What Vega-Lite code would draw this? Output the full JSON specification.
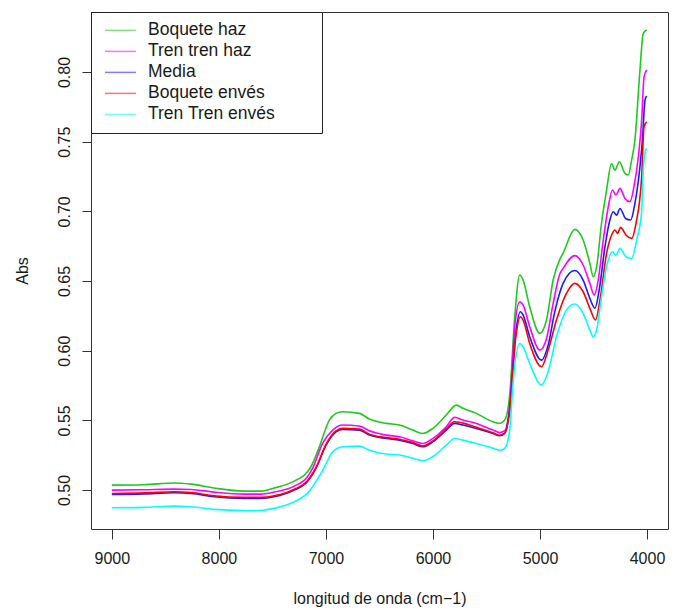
{
  "$schema": "https://vega.github.io/schema/vega-lite/v6.json",
  "width": 577,
  "height": 517,
  "autosize": "none",
  "padding": {"left": 91, "top": 12, "right": 8, "bottom": 81},
  "background": "white",
  "config": {
    "view": {"stroke": "#333", "strokeWidth": 1},
    "font": "Liberation Sans",
    "axis": {"labelFont": "Liberation Sans", "titleFont": "Liberation Sans", "labelFontSize": 16, "titleFontSize": 16, "titleFontWeight": "normal", "labelColor": "#1a1a1a", "titleColor": "#1a1a1a", "tickColor": "#333", "grid": false, "domain": false}
  },
  "datasets": {
    "spectra": [
      {"s":"Boquete haz","x":9000,"y":0.5035},{"s":"Boquete haz","x":8700,"y":0.5038},{"s":"Boquete haz","x":8420,"y":0.5050},{"s":"Boquete haz","x":8260,"y":0.5042},{"s":"Boquete haz","x":8045,"y":0.5014},{"s":"Boquete haz","x":7764,"y":0.4992},{"s":"Boquete haz","x":7605,"y":0.4992},{"s":"Boquete haz","x":7483,"y":0.5014},{"s":"Boquete haz","x":7296,"y":0.5064},{"s":"Boquete haz","x":7174,"y":0.5129},{"s":"Boquete haz","x":7140,"y":0.5167},{"s":"Boquete haz","x":7062,"y":0.5308},{"s":"Boquete haz","x":6968,"y":0.5502},{"s":"Boquete haz","x":6906,"y":0.5550},{"s":"Boquete haz","x":6844,"y":0.5562},{"s":"Boquete haz","x":6687,"y":0.5550},{"s":"Boquete haz","x":6594,"y":0.5509},{"s":"Boquete haz","x":6437,"y":0.5478},{"s":"Boquete haz","x":6313,"y":0.5466},{"s":"Boquete haz","x":6188,"y":0.5430},{"s":"Boquete haz","x":6095,"y":0.5406},{"s":"Boquete haz","x":6001,"y":0.5442},{"s":"Boquete haz","x":5876,"y":0.5538},{"s":"Boquete haz","x":5782,"y":0.5609},{"s":"Boquete haz","x":5720,"y":0.5586},{"s":"Boquete haz","x":5595,"y":0.5550},{"s":"Boquete haz","x":5439,"y":0.5490},{"s":"Boquete haz","x":5377,"y":0.5478},{"s":"Boquete haz","x":5330,"y":0.5502},{"s":"Boquete haz","x":5283,"y":0.5680},{"s":"Boquete haz","x":5236,"y":0.6243},{"s":"Boquete haz","x":5189,"y":0.6543},{"s":"Boquete haz","x":5158,"y":0.6507},{"s":"Boquete haz","x":5096,"y":0.6315},{"s":"Boquete haz","x":5002,"y":0.6124},{"s":"Boquete haz","x":4939,"y":0.6220},{"s":"Boquete haz","x":4877,"y":0.6507},{"s":"Boquete haz","x":4815,"y":0.6655},{"s":"Boquete haz","x":4784,"y":0.6700},{"s":"Boquete haz","x":4675,"y":0.6871},{"s":"Boquete haz","x":4597,"y":0.6794},{"s":"Boquete haz","x":4534,"y":0.6627},{"s":"Boquete haz","x":4503,"y":0.6531},{"s":"Boquete haz","x":4471,"y":0.6602},{"s":"Boquete haz","x":4425,"y":0.6914},{"s":"Boquete haz","x":4378,"y":0.7153},{"s":"Boquete haz","x":4331,"y":0.7344},{"s":"Boquete haz","x":4300,"y":0.7296},{"s":"Boquete haz","x":4259,"y":0.7356},{"s":"Boquete haz","x":4206,"y":0.7273},{"s":"Boquete haz","x":4175,"y":0.7261},{"s":"Boquete haz","x":4144,"y":0.7368},{"s":"Boquete haz","x":4113,"y":0.7512},{"s":"Boquete haz","x":4066,"y":0.8014},{"s":"Boquete haz","x":4035,"y":0.8278},{"s":"Boquete haz","x":4003,"y":0.8302},

      {"s":"Tren tren haz","x":9000,"y":0.4999},{"s":"Tren tren haz","x":8700,"y":0.5002},{"s":"Tren tren haz","x":8420,"y":0.5006},{"s":"Tren tren haz","x":8260,"y":0.5004},{"s":"Tren tren haz","x":8045,"y":0.4985},{"s":"Tren tren haz","x":7764,"y":0.4970},{"s":"Tren tren haz","x":7605,"y":0.4970},{"s":"Tren tren haz","x":7483,"y":0.4985},{"s":"Tren tren haz","x":7296,"y":0.5028},{"s":"Tren tren haz","x":7174,"y":0.5093},{"s":"Tren tren haz","x":7125,"y":0.5155},{"s":"Tren tren haz","x":7031,"y":0.5334},{"s":"Tren tren haz","x":6937,"y":0.5430},{"s":"Tren tren haz","x":6844,"y":0.5466},{"s":"Tren tren haz","x":6687,"y":0.5459},{"s":"Tren tren haz","x":6594,"y":0.5425},{"s":"Tren tren haz","x":6437,"y":0.5394},{"s":"Tren tren haz","x":6313,"y":0.5382},{"s":"Tren tren haz","x":6188,"y":0.5353},{"s":"Tren tren haz","x":6095,"y":0.5334},{"s":"Tren tren haz","x":6001,"y":0.5370},{"s":"Tren tren haz","x":5876,"y":0.5454},{"s":"Tren tren haz","x":5798,"y":0.5521},{"s":"Tren tren haz","x":5720,"y":0.5502},{"s":"Tren tren haz","x":5595,"y":0.5478},{"s":"Tren tren haz","x":5439,"y":0.5430},{"s":"Tren tren haz","x":5377,"y":0.5413},{"s":"Tren tren haz","x":5330,"y":0.5425},{"s":"Tren tren haz","x":5283,"y":0.5610},{"s":"Tren tren haz","x":5236,"y":0.6172},{"s":"Tren tren haz","x":5189,"y":0.6351},{"s":"Tren tren haz","x":5158,"y":0.6327},{"s":"Tren tren haz","x":5096,"y":0.6172},{"s":"Tren tren haz","x":5002,"y":0.6004},{"s":"Tren tren haz","x":4939,"y":0.6088},{"s":"Tren tren haz","x":4877,"y":0.6339},{"s":"Tren tren haz","x":4815,"y":0.6550},{"s":"Tren tren haz","x":4784,"y":0.6591},{"s":"Tren tren haz","x":4675,"y":0.6682},{"s":"Tren tren haz","x":4597,"y":0.6615},{"s":"Tren tren haz","x":4534,"y":0.6483},{"s":"Tren tren haz","x":4494,"y":0.6399},{"s":"Tren tren haz","x":4456,"y":0.6507},{"s":"Tren tren haz","x":4409,"y":0.6794},{"s":"Tren tren haz","x":4362,"y":0.7033},{"s":"Tren tren haz","x":4322,"y":0.7153},{"s":"Tren tren haz","x":4291,"y":0.7117},{"s":"Tren tren haz","x":4253,"y":0.7165},{"s":"Tren tren haz","x":4206,"y":0.7093},{"s":"Tren tren haz","x":4159,"y":0.7069},{"s":"Tren tren haz","x":4122,"y":0.7177},{"s":"Tren tren haz","x":4081,"y":0.7392},{"s":"Tren tren haz","x":4050,"y":0.7655},{"s":"Tren tren haz","x":4028,"y":0.7966},{"s":"Tren tren haz","x":4003,"y":0.8014},

      {"s":"Media","x":9000,"y":0.4968},{"s":"Media","x":8700,"y":0.4972},{"s":"Media","x":8420,"y":0.4980},{"s":"Media","x":8260,"y":0.4975},{"s":"Media","x":8045,"y":0.4951},{"s":"Media","x":7764,"y":0.4940},{"s":"Media","x":7605,"y":0.4940},{"s":"Media","x":7483,"y":0.4951},{"s":"Media","x":7296,"y":0.4999},{"s":"Media","x":7174,"y":0.5059},{"s":"Media","x":7093,"y":0.5155},{"s":"Media","x":6999,"y":0.5322},{"s":"Media","x":6906,"y":0.5418},{"s":"Media","x":6844,"y":0.5435},{"s":"Media","x":6687,"y":0.5430},{"s":"Media","x":6594,"y":0.5394},{"s":"Media","x":6437,"y":0.5370},{"s":"Media","x":6313,"y":0.5358},{"s":"Media","x":6188,"y":0.5334},{"s":"Media","x":6095,"y":0.5310},{"s":"Media","x":6001,"y":0.5346},{"s":"Media","x":5876,"y":0.5430},{"s":"Media","x":5798,"y":0.5478},{"s":"Media","x":5720,"y":0.5466},{"s":"Media","x":5595,"y":0.5442},{"s":"Media","x":5439,"y":0.5406},{"s":"Media","x":5377,"y":0.5389},{"s":"Media","x":5330,"y":0.5406},{"s":"Media","x":5283,"y":0.5585},{"s":"Media","x":5227,"y":0.6124},{"s":"Media","x":5183,"y":0.6279},{"s":"Media","x":5158,"y":0.6256},{"s":"Media","x":5096,"y":0.6100},{"s":"Media","x":4986,"y":0.5932},{"s":"Media","x":4924,"y":0.6040},{"s":"Media","x":4862,"y":0.6279},{"s":"Media","x":4784,"y":0.6483},{"s":"Media","x":4675,"y":0.6575},{"s":"Media","x":4597,"y":0.6507},{"s":"Media","x":4534,"y":0.6375},{"s":"Media","x":4487,"y":0.6304},{"s":"Media","x":4447,"y":0.6435},{"s":"Media","x":4393,"y":0.6746},{"s":"Media","x":4347,"y":0.6938},{"s":"Media","x":4316,"y":0.6997},{"s":"Media","x":4284,"y":0.6973},{"s":"Media","x":4253,"y":0.7021},{"s":"Media","x":4200,"y":0.6949},{"s":"Media","x":4153,"y":0.6938},{"s":"Media","x":4113,"y":0.7057},{"s":"Media","x":4066,"y":0.7320},{"s":"Media","x":4041,"y":0.7536},{"s":"Media","x":4019,"y":0.7799},{"s":"Media","x":4003,"y":0.7828},

      {"s":"Boquete envés","x":9000,"y":0.4975},{"s":"Boquete envés","x":8700,"y":0.4979},{"s":"Boquete envés","x":8420,"y":0.4987},{"s":"Boquete envés","x":8260,"y":0.4982},{"s":"Boquete envés","x":8045,"y":0.4958},{"s":"Boquete envés","x":7764,"y":0.4947},{"s":"Boquete envés","x":7605,"y":0.4947},{"s":"Boquete envés","x":7483,"y":0.4958},{"s":"Boquete envés","x":7296,"y":0.5005},{"s":"Boquete envés","x":7174,"y":0.5065},{"s":"Boquete envés","x":7093,"y":0.5160},{"s":"Boquete envés","x":6999,"y":0.5328},{"s":"Boquete envés","x":6906,"y":0.5424},{"s":"Boquete envés","x":6844,"y":0.5442},{"s":"Boquete envés","x":6687,"y":0.5437},{"s":"Boquete envés","x":6594,"y":0.5400},{"s":"Boquete envés","x":6437,"y":0.5376},{"s":"Boquete envés","x":6313,"y":0.5364},{"s":"Boquete envés","x":6188,"y":0.5340},{"s":"Boquete envés","x":6095,"y":0.5316},{"s":"Boquete envés","x":6001,"y":0.5352},{"s":"Boquete envés","x":5876,"y":0.5440},{"s":"Boquete envés","x":5798,"y":0.5490},{"s":"Boquete envés","x":5720,"y":0.5480},{"s":"Boquete envés","x":5595,"y":0.5450},{"s":"Boquete envés","x":5439,"y":0.5410},{"s":"Boquete envés","x":5377,"y":0.5392},{"s":"Boquete envés","x":5330,"y":0.5408},{"s":"Boquete envés","x":5283,"y":0.5570},{"s":"Boquete envés","x":5227,"y":0.6090},{"s":"Boquete envés","x":5183,"y":0.6243},{"s":"Boquete envés","x":5158,"y":0.6220},{"s":"Boquete envés","x":5096,"y":0.6052},{"s":"Boquete envés","x":4986,"y":0.5885},{"s":"Boquete envés","x":4924,"y":0.6004},{"s":"Boquete envés","x":4846,"y":0.6220},{"s":"Boquete envés","x":4753,"y":0.6411},{"s":"Boquete envés","x":4675,"y":0.6483},{"s":"Boquete envés","x":4597,"y":0.6423},{"s":"Boquete envés","x":4534,"y":0.6304},{"s":"Boquete envés","x":4481,"y":0.6220},{"s":"Boquete envés","x":4440,"y":0.6363},{"s":"Boquete envés","x":4378,"y":0.6698},{"s":"Boquete envés","x":4331,"y":0.6830},{"s":"Boquete envés","x":4300,"y":0.6866},{"s":"Boquete envés","x":4275,"y":0.6842},{"s":"Boquete envés","x":4247,"y":0.6885},{"s":"Boquete envés","x":4197,"y":0.6830},{"s":"Boquete envés","x":4144,"y":0.6806},{"s":"Boquete envés","x":4103,"y":0.6914},{"s":"Boquete envés","x":4050,"y":0.7250},{"s":"Boquete envés","x":4028,"y":0.7607},{"s":"Boquete envés","x":4003,"y":0.7643},

      {"s":"Tren Tren envés","x":9000,"y":0.4872},{"s":"Tren Tren envés","x":8700,"y":0.4875},{"s":"Tren Tren envés","x":8420,"y":0.4884},{"s":"Tren Tren envés","x":8260,"y":0.4880},{"s":"Tren Tren envés","x":8045,"y":0.4861},{"s":"Tren Tren envés","x":7670,"y":0.4851},{"s":"Tren Tren envés","x":7483,"y":0.4868},{"s":"Tren Tren envés","x":7296,"y":0.4915},{"s":"Tren Tren envés","x":7174,"y":0.4976},{"s":"Tren Tren envés","x":7031,"y":0.5140},{"s":"Tren Tren envés","x":6937,"y":0.5274},{"s":"Tren Tren envés","x":6844,"y":0.5310},{"s":"Tren Tren envés","x":6687,"y":0.5315},{"s":"Tren Tren envés","x":6594,"y":0.5286},{"s":"Tren Tren envés","x":6437,"y":0.5258},{"s":"Tren Tren envés","x":6313,"y":0.5251},{"s":"Tren Tren envés","x":6188,"y":0.5227},{"s":"Tren Tren envés","x":6095,"y":0.5210},{"s":"Tren Tren envés","x":6001,"y":0.5239},{"s":"Tren Tren envés","x":5876,"y":0.5322},{"s":"Tren Tren envés","x":5798,"y":0.5370},{"s":"Tren Tren envés","x":5720,"y":0.5358},{"s":"Tren Tren envés","x":5595,"y":0.5334},{"s":"Tren Tren envés","x":5439,"y":0.5299},{"s":"Tren Tren envés","x":5377,"y":0.5286},{"s":"Tren Tren envés","x":5330,"y":0.5299},{"s":"Tren Tren envés","x":5283,"y":0.5430},{"s":"Tren Tren envés","x":5252,"y":0.5766},{"s":"Tren Tren envés","x":5189,"y":0.6052},{"s":"Tren Tren envés","x":5158,"y":0.6028},{"s":"Tren Tren envés","x":5096,"y":0.5908},{"s":"Tren Tren envés","x":4986,"y":0.5753},{"s":"Tren Tren envés","x":4924,"y":0.5849},{"s":"Tren Tren envés","x":4846,"y":0.6100},{"s":"Tren Tren envés","x":4753,"y":0.6291},{"s":"Tren Tren envés","x":4675,"y":0.6335},{"s":"Tren Tren envés","x":4597,"y":0.6268},{"s":"Tren Tren envés","x":4534,"y":0.6148},{"s":"Tren Tren envés","x":4503,"y":0.6100},{"s":"Tren Tren envés","x":4471,"y":0.6148},{"s":"Tren Tren envés","x":4425,"y":0.6387},{"s":"Tren Tren envés","x":4378,"y":0.6602},{"s":"Tren Tren envés","x":4322,"y":0.6710},{"s":"Tren Tren envés","x":4291,"y":0.6686},{"s":"Tren Tren envés","x":4253,"y":0.6734},{"s":"Tren Tren envés","x":4197,"y":0.6674},{"s":"Tren Tren envés","x":4144,"y":0.6662},{"s":"Tren Tren envés","x":4097,"y":0.6794},{"s":"Tren Tren envés","x":4050,"y":0.7000},{"s":"Tren Tren envés","x":4035,"y":0.7300},{"s":"Tren Tren envés","x":4015,"y":0.7430},{"s":"Tren Tren envés","x":4003,"y":0.7452}
    ]
  },
  "data": {"name": "spectra"},
  "mark": {"type": "line", "strokeWidth": 1.6, "interpolate": "monotone"},
  "encoding": {
    "x": {
      "field": "x", "type": "quantitative",
      "scale": {"domain": [3804, 9195], "reverse": true, "nice": false, "zero": false},
      "axis": {"values": [4000, 5000, 6000, 7000, 8000, 9000], "format": "d", "title": "longitud de onda (cm−1)", "tickSize": 10, "labelPadding": 11, "titlePadding": 24, "labelFlush": false, "labelOverlap": false}
    },
    "y": {
      "field": "y", "type": "quantitative",
      "scale": {"domain": [0.472, 0.8431], "nice": false, "zero": false},
      "axis": {"values": [0.5, 0.55, 0.6, 0.65, 0.7, 0.75, 0.8], "format": ".2f", "title": "Abs", "labelAngle": -90, "labelAlign": "center", "labelBaseline": "bottom", "tickSize": 9, "labelPadding": 10, "titlePadding": 26, "labelFlush": false, "labelOverlap": false}
    },
    "color": {
      "field": "s", "type": "nominal",
      "scale": {"domain": ["Boquete haz", "Tren tren haz", "Media", "Boquete envés", "Tren Tren envés"], "range": ["#1fc91f", "#ff00ff", "#1a1aff", "#ff0000", "#00ffff"]},
      "legend": {"title": null, "orient": "top-left", "offset": 0, "padding": 8, "strokeColor": "#222", "fillColor": "white", "symbolType": "stroke", "symbolSize": 961, "symbolStrokeWidth": 1.5, "symbolOpacity": 0.55, "symbolOffset": 5, "labelFont": "Liberation Sans", "labelFontSize": 17.5, "labelColor": "#1a1a1a", "labelOffset": 11, "clipHeight": 20.75, "rowPadding": 0, "labelLimit": 400, "labelExpr": "datum.label + '\u00a0\u00a0\u00a0\u00a0\u00a0\u00a0\u00a0\u00a0\u200b'"}
    }
  }
}
